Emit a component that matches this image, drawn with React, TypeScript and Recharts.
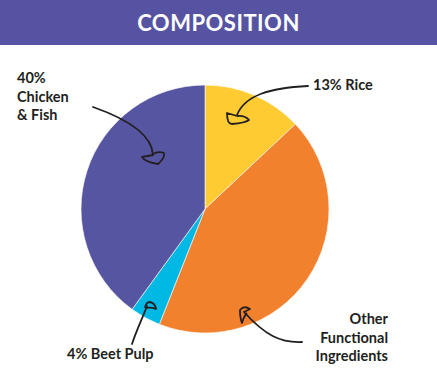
import { PieChart, Pie, Cell } from "recharts";

const categories = ["Rice", "Other Functional Ingredients", "Beet Pulp", "Chicken & Fish"];
const shares = [13, 43, 4, 40];
const labelLines = [["13% Rice"], ["Other", "Functional", "Ingredients"], ["4% Beet Pulp"], ["40%", "Chicken", "& Fish"]];

const colors = ["#FECB32", "#F2812D", "#00B8E4", "#5655A1"];
const FONT = "Lato, 'Noto Sans', sans-serif";
const INK = "#231F20";

const data = categories.map((name, i) => ({ name, value: shares[i] }));

// annotation layout, relative to the pie centre
const notes = [
    {
        x: 108, y: -119, anchor: "start",
        line: "M103,-123 C65,-121 40,-114 32,-94",
        head: "M32,-93 L22,-96 Q22,-85 27,-85 Q40,-86 44,-89 Q40,-94 32,-93",
    },
    {
        x: 183, y: 115, anchor: "end",
        line: "M97,133 C75,134 60,126 39,103",
        head: "M39,103 L45,100 Q39,96 35,101 Q35,109 37,114 Q39,107 42,104",
    },
    {
        x: -138, y: 150, anchor: "start",
        line: "M-73,135 C-68,120 -62,108 -58,97",
        head: "M-60,99 Q-59,93 -55,93 Q-50,94 -49,100 Q-54,98 -60,99",
    },
    {
        x: -188, y: -126, anchor: "start",
        line: "M-112,-102 C-75,-89 -53,-74 -52,-54",
        head: "M-52,-54 L-63,-52 Q-60,-47 -47,-45 Q-40,-51 -41,-56 Q-47,-58 -52,-55",
    },
];

function renderLabel(props: any) {
    const { cx, cy, index } = props;
    const n = notes[index];
    const lines = labelLines[index];
    return (
        <g transform={`translate(${cx}, ${cy})`}>
            <path d={n.line} fill="none" stroke={INK} strokeWidth={1.8} strokeLinecap="round" />
            <path d={n.head} fill="none" stroke={INK} strokeWidth={1.8} strokeLinejoin="round" />
            <text
                x={n.x}
                y={n.y}
                textAnchor={n.anchor as any}
                fontFamily={FONT}
                fontSize={14.5}
                fontWeight={700}
                fill={INK}
            >
                {lines.map((t, i) => (
                    <tspan key={i} x={n.x} dy={i === 0 ? 0 : 18.5}>
                        {t}
                    </tspan>
                ))}
            </text>
        </g>
    );
}

export default function App() {
    return (
        <div style={{ position: "absolute", left: 0, top: 0, width: 437, height: 391, background: "#fff" }}>
            <div
                style={{
                    position: "absolute",
                    left: 0,
                    top: 0,
                    width: 437,
                    height: 45,
                    background: "#5654A2",
                    color: "#fff",
                    fontFamily: FONT,
                    fontWeight: 700,
                    fontSize: 22,
                    lineHeight: "45px",
                    textAlign: "center",
                    letterSpacing: 0.5,
                }}
            >
                COMPOSITION
            </div>
            <div style={{ position: "absolute", left: 0, top: 0 }}>
                <PieChart width={437} height={391} margin={{ top: 0, right: 0, bottom: 0, left: 0 }}>
                    <Pie
                        data={data}
                        dataKey="value"
                        nameKey="name"
                        cx={205}
                        cy={209}
                        outerRadius={124}
                        startAngle={90}
                        endAngle={-270}
                        stroke="#ffffff"
                        strokeWidth={0.6}
                        label={renderLabel}
                        labelLine={false}
                        isAnimationActive={false}
                    >
                        {data.map((d, i) => (
                            <Cell key={d.name} fill={colors[i]} />
                        ))}
                    </Pie>
                </PieChart>
            </div>
        </div>
    );
}
